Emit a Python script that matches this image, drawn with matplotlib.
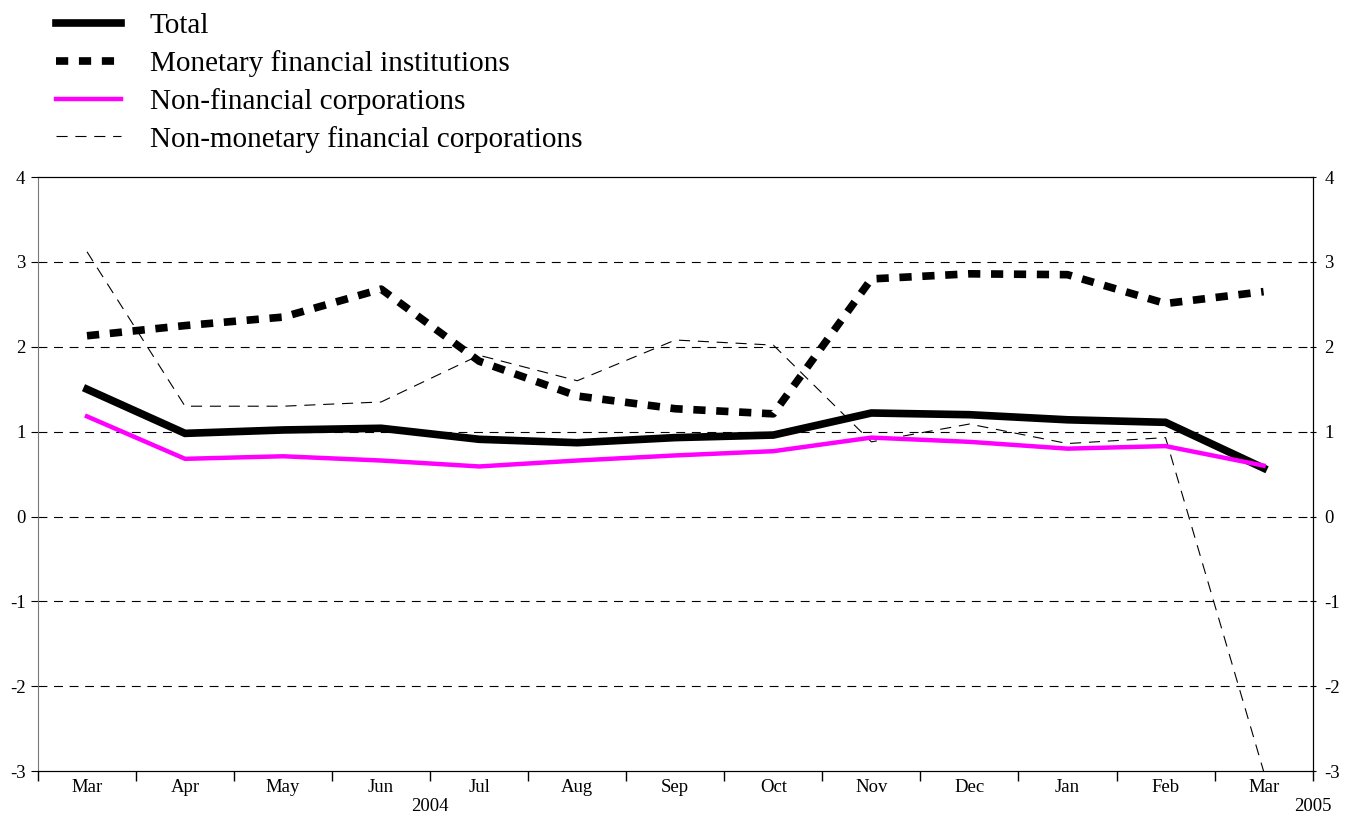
import matplotlib
matplotlib.use('Agg')
import matplotlib.pyplot as plt
import matplotlib.transforms as mtransforms

plt.rcParams['font.family'] = ['Liberation Serif', 'DejaVu Serif']

months = ['Mar', 'Apr', 'May', 'Jun', 'Jul', 'Aug', 'Sep', 'Oct', 'Nov', 'Dec', 'Jan', 'Feb', 'Mar']
total = [1.50, 0.98, 1.02, 1.04, 0.91, 0.87, 0.93, 0.96, 1.22, 1.20, 1.14, 1.11, 0.57]
mfi = [2.13, 2.25, 2.35, 2.68, 1.83, 1.42, 1.27, 1.21, 2.80, 2.86, 2.85, 2.51, 2.65]
nfc = [1.18, 0.68, 0.71, 0.66, 0.59, 0.66, 0.72, 0.77, 0.93, 0.88, 0.80, 0.83, 0.60]
nmfc = [3.12, 1.30, 1.30, 1.35, 1.90, 1.60, 2.08, 2.02, 0.88, 1.09, 0.86, 0.93, -3.00]
labels = ['Total', 'Monetary financial institutions', 'Non-financial corporations',
          'Non-monetary financial corporations']
yticks = [-3, -2, -1, 0, 1, 2, 3, 4]

fig = plt.figure(figsize=(13.56, 8.16), dpi=100)
ax = fig.add_axes([0.028, 0.055, 0.94, 0.728])
x = list(range(len(months)))

for yv in yticks[1:-1]:
    ax.axhline(yv, color='black', lw=0.8, dashes=(8, 6), zorder=1)

l1, = ax.plot(x, total, color='black', lw=5.5, solid_joinstyle='miter', zorder=4)
l2, = ax.plot(x, mfi, color='black', lw=5.5, dashes=(1.6, 1.4), zorder=3)
l3, = ax.plot(x, nfc, color='#ff00ff', lw=3.2, zorder=5)
l4, = ax.plot(x, nmfc, color='black', lw=0.8, dashes=(10, 7), zorder=2)

ax.set_xlim(-0.5, 12.5)
ax.set_ylim(-3, 4)
ax.set_yticks(yticks)
ax.set_yticklabels([str(v) for v in yticks], fontsize=13.5)
ax.set_xticks(x)
ax.set_xticklabels(months, fontsize=13.5)
ax.tick_params(axis='x', which='major', length=0, pad=6)
ax.set_xticks([i + 0.5 for i in range(-1, 13)], minor=True)
ax.tick_params(axis='x', which='minor', length=7, direction='out', width=1)
ax.tick_params(axis='y', length=5, direction='out', pad=4)
ax.spines['left'].set_color('#777777')

ax2 = ax.twinx()
ax2.set_ylim(-3, 4)
ax2.set_yticks(yticks)
ax2.set_yticklabels([str(v) for v in yticks], fontsize=13.5)
ax2.tick_params(axis='y', length=5, direction='inout', pad=6)
ax2.spines['left'].set_visible(False)

trans = mtransforms.blended_transform_factory(ax.transData, ax.transAxes)
ax.text(3.5, -0.045, '2004', transform=trans, ha='center', va='top', fontsize=13.5)
ax.text(12.5, -0.045, '2005', transform=trans, ha='center', va='top', fontsize=13.5)

fig.legend([l1, l2, l3, l4], labels, loc='upper left', bbox_to_anchor=(0.033, 0.9985),
           frameon=False, fontsize=21, handlelength=2.2, handletextpad=1.0,
           labelspacing=0.37, borderaxespad=0.0)

fig.savefig('out.png', dpi=100)
